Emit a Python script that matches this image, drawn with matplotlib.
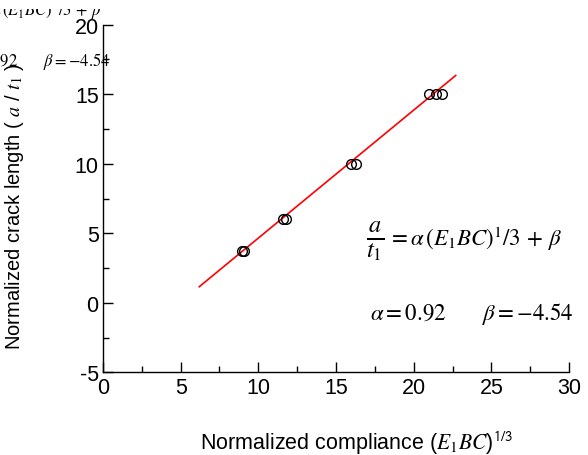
import matplotlib
matplotlib.use("Agg")
import matplotlib.pyplot as plt
from matplotlib.ticker import MultipleLocator
from matplotlib.transforms import Bbox

plt.rcParams['font.family'] = ['Liberation Sans', 'DejaVu Sans']
plt.rcParams['mathtext.fontset'] = 'stix'
plt.rcParams['axes.unicode_minus'] = False

# measured points (normalized compliance vs normalized crack length)
compliance = [8.95, 9.1, 11.6, 11.8, 15.95, 16.3, 21.0, 21.4, 21.8]
crack_len = [3.75, 3.75, 6.0, 6.0, 10.0, 10.0, 15.0, 15.0, 15.0]

# fitted line a/t1 = 0.92 (E1BC)^1/3 - 4.54, end points
fit_x = [6.2, 22.7]
fit_y = [1.16, 16.34]

xticks = [0, 5, 10, 15, 20, 25, 30]
yticks = [-5, 0, 5, 10, 15, 20]

W, H = 588, 456
fig = plt.figure(figsize=(W / 100, H / 100), dpi=100)
ax = fig.add_axes([0.175, 0.181, 0.793, 0.763])

ax.plot(fit_x, fit_y, color='red', lw=1.2, zorder=2)
ax.plot(compliance, crack_len, 'o', mfc='none', mec='black', ms=7, mew=1.0, zorder=3)

ax.set_xlim(0, 30)
ax.set_ylim(-5, 20)
ax.set_xticks(xticks)
ax.set_yticks(yticks)
ax.xaxis.set_minor_locator(MultipleLocator(2.5))
ax.yaxis.set_minor_locator(MultipleLocator(2.5))
ax.spines['top'].set_visible(False)
ax.spines['right'].set_visible(False)
for s in ['left', 'bottom']:
    ax.spines[s].set_linewidth(1.0)
ax.tick_params(which='major', direction='in', length=7, width=1, labelsize=15.5, pad=3)
ax.tick_params(which='minor', direction='in', length=4, width=1)

ax.set_xlabel(r'Normalized compliance ($E_1BC$)$^{\mathsf{1/3}}$', fontsize=15.5)
ax.xaxis.set_label_coords(0.545, -0.16)
ax.set_ylabel(r'Normalized crack length ( $a$ / $t_1$ )', fontsize=14.5)
ax.yaxis.set_label_coords(-0.165, 0.48)

frac = r'$\frac{a}{t_1}$'
rhs = r'$=\alpha\,\left(E_1BC\right)^{1}/3\,+\,\beta$'
coeffs = r'$\alpha=0.92\qquad\;\beta=-4.54$'

fig.text(366 / W, 1 - 246 / H, frac, fontsize=25, va='baseline', ha='left')
fig.text(388 / W, 1 - 246 / H, rhs, fontsize=16.5, va='baseline', ha='left')
fig.text(370 / W, 1 - 320 / H, coeffs, fontsize=16.5, va='baseline', ha='left')

# leftover copies of the annotation cut off at the figure edge
clip = Bbox.from_extents(0, 0, W, H - 10)
t1 = fig.text(102 / W, 1 - 17 / H, r'$\alpha\,\left(E_1BC\right)^{1}/3\,+\,\beta$',
              fontsize=12, va='baseline', ha='right')
t1.set_clip_box(clip)
t1.set_clip_on(True)
fig.text(110 / W, 1 - 66 / H, coeffs, fontsize=12, va='baseline', ha='right')

fig.savefig('out.png', dpi=100)
